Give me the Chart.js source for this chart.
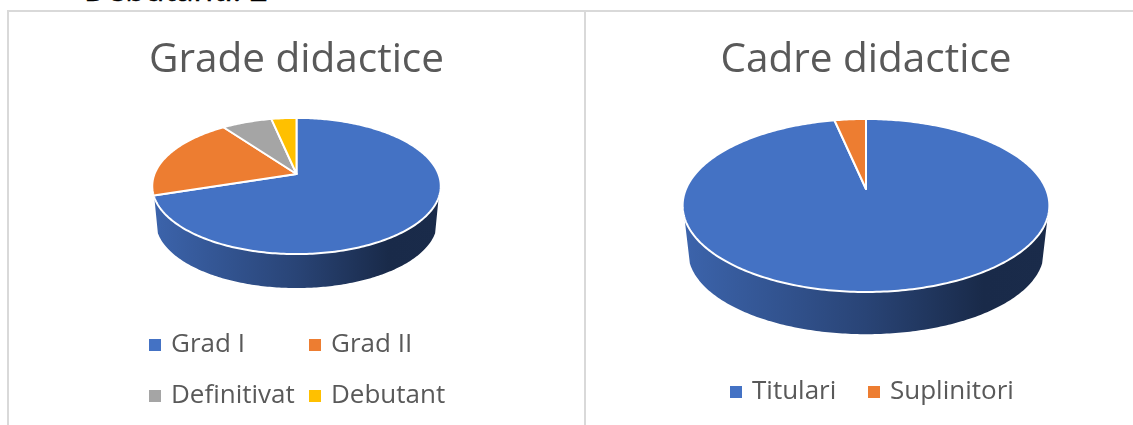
<!DOCTYPE html>
<html><head><meta charset="utf-8">
<script src="https://cdn.jsdelivr.net/npm/chart.js@4"></script>
<style>
html,body{margin:0;padding:0;background:#fff;width:1133px;height:425px;overflow:hidden;position:relative}
canvas{position:absolute;display:block}
.rule{position:absolute;background:#d9d9d9}
#cut{position:absolute;left:84px;top:-31px;font:32px/40px "Open Sans",sans-serif;color:#000;white-space:nowrap;-webkit-text-stroke:.5px #000}
</style></head><body>
<div id="cut">Debutanti: 2</div>
<div class="rule" style="left:7px;top:10px;width:1126px;height:2px"></div>
<div class="rule" style="left:7px;top:10px;width:2px;height:415px"></div>
<div class="rule" style="left:584px;top:10px;width:2px;height:415px"></div>
<canvas id="c1" width="575" height="414" style="left:9px;top:11px;width:575px;height:414px"></canvas>
<canvas id="c2" width="534" height="414" style="left:599px;top:11px;width:534px;height:414px"></canvas>
<script>
const titleGrade = "Grade didactice";
const categoriesGrade = ["Grad I", "Grad II", "Definitivat", "Debutant"];
const valuesGrade = [42, 12, 4, 2];
const coloursGrade = ["#4472C4", "#ED7D31", "#A5A5A5", "#FFC000"];

const titleCadre = "Cadre didactice";
const categoriesCadre = ["Titulari", "Suplinitori"];
const valuesCadre = [58, 2];
const coloursCadre = ["#4472C4", "#ED7D31"];

const ink = "#595959";
const fontFamily = '"Open Sans", sans-serif';

function shade(hex, f) {
  const n = parseInt(hex.slice(1), 16);
  return "rgb(" + [(n >> 16) & 255, (n >> 8) & 255, n & 255].map(c => Math.round(c * f)).join(",") + ")";
}

const pie3d = {
  id: "pie3d",
  beforeDatasetDraw(chart, args, o) {
    const ctx = chart.ctx, els = args.meta.data;
    const x0 = els[0].x, y0 = els[0].y, a = els[0].outerRadius;
    const b = a * o.squash, p = o.persp;
    const norm = Math.sqrt(1 - p * p);
    const A = a / norm, B = b / (1 - p * p), yc = y0 + b * p / (1 - p * p);
    const A2 = A * o.baseX, B2 = B * o.baseY, yc2 = yc + o.depth;
    const top = t => {
      const u = Math.cos(t), v = Math.sin(t), w = 1 - p * v;
      return [x0 + a * u / w, y0 + b * v / w];
    };
    const phi = t => { const q = top(t); return Math.atan2((q[1] - yc) / B, (q[0] - x0) / A); };
    const steps = (s, e) => { const n = Math.max(2, Math.ceil(Math.abs(e - s) * 60)); return Array.from({length: n + 1}, (_, i) => s + (e - s) * i / n); };

    ctx.save();
    // side wall
    els.forEach(el => {
      const col = el.options.backgroundColor;
      for (let k = 0; k < 2; k++) {
        const s = Math.max(el.startAngle, 2 * Math.PI * (k - 1));
        const e = Math.min(el.endAngle, 2 * Math.PI * (k - 1) + Math.PI);
        if (e <= s) continue;
        const ps = phi(s), pe = phi(e);
        const f0 = Math.max(ps < 0 ? 0 : ps, o.rim), f1 = Math.min(pe < 0 ? Math.PI : pe, Math.PI - o.rim);
        if (f1 <= f0) continue;
        const g = ctx.createLinearGradient(x0 - A, 0, x0 + A, 0);
        g.addColorStop(0, shade(col, .88));
        g.addColorStop(.5, shade(col, .6));
        g.addColorStop(.82, shade(col, .37));
        g.addColorStop(1, shade(col, .38));
        ctx.fillStyle = g;
        ctx.beginPath();
        steps(f0, f1).forEach((f, i) => {
          const X = x0 + A * Math.cos(f), Y = yc + B * Math.sin(f);
          i ? ctx.lineTo(X, Y) : ctx.moveTo(X, Y);
        });
        steps(f1, f0).forEach(f => ctx.lineTo(x0 + A2 * Math.cos(f), yc2 + B2 * Math.sin(f)));
        ctx.closePath();
        ctx.fill();
      }
    });
    // top face
    els.forEach(el => {
      ctx.beginPath();
      ctx.moveTo(x0, y0);
      steps(el.startAngle, el.endAngle).forEach(t => { const q = top(t); ctx.lineTo(q[0], q[1]); });
      ctx.closePath();
      ctx.fillStyle = el.options.backgroundColor;
      ctx.fill();
      ctx.lineJoin = "round";
      ctx.strokeStyle = el.options.borderColor;
      ctx.lineWidth = el.options.borderWidth;
      ctx.stroke();
    });
    ctx.restore();
    return false;
  },
  afterDraw(chart, args, o) {
    const ctx = chart.ctx, d = chart.data;
    ctx.save();
    ctx.font = o.font + "px " + fontFamily;
    ctx.textBaseline = "middle";
    d.labels.forEach((label, i) => {
      const [bx, tx, y] = o.items[i];
      ctx.fillStyle = d.datasets[0].backgroundColor[i];
      ctx.fillRect(bx, y - 6, 12, 12);
      ctx.fillStyle = ink;
      ctx.fillText(label, tx, y);
    });
    ctx.restore();
  }
};

function makePie(id, title, labels, values, colours, radius, padBottom, geo) {
  return new Chart(document.getElementById(id), {
    type: "pie",
    data: { labels, datasets: [{ data: values, backgroundColor: colours, borderColor: "#ffffff", borderWidth: 2, radius }] },
    plugins: [pie3d],
    options: {
      responsive: false, animation: false,
      layout: { padding: { bottom: padBottom } },
      plugins: {
        legend: { display: false },
        tooltip: { enabled: false },
        title: { display: true, text: title, color: ink,
          font: { family: fontFamily, size: 40.5, weight: "normal", lineHeight: 1.2 },
          padding: { top: 24.7, bottom: 0 } },
        pie3d: geo
      }
    }
  });
}

makePie("c1", titleGrade, categoriesGrade, valuesGrade, coloursGrade, 142, 161.3, {
  squash: .4648, persp: .176, depth: 36, baseX: .975, baseY: .97, rim: .17, font: 26,
  items: [[140, 162, 334], [300, 322, 334], [140, 162, 385], [300, 322, 385]]
});
makePie("c2", titleCadre, categoriesCadre, valuesCadre, coloursCadre, 180, 131.3, {
  squash: .4631, persp: .1907, depth: 46.5, baseX: .97, baseY: .95, rim: .14, font: 26,
  items: [[131, 153, 381], [269, 291, 381]]
});
</script>
</body></html>
